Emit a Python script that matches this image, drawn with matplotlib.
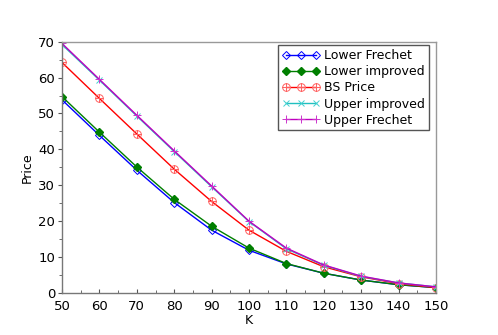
import matplotlib
matplotlib.use("Agg")
import matplotlib.pyplot as plt
from matplotlib.path import Path
from matplotlib.ticker import MultipleLocator

K = [50, 60, 70, 80, 90, 100, 110, 120, 130, 140, 150]
lower_frechet = [53.8, 43.9, 34.2, 25.2, 17.5, 11.9, 8.1, 5.5, 3.6, 2.3, 1.5]
lower_improved = [54.7, 44.8, 35.1, 26.1, 18.6, 12.5, 8.2, 5.5, 3.6, 2.3, 1.5]
bs_price = [64.2, 54.2, 44.3, 34.5, 25.5, 17.5, 11.6, 7.3, 4.5, 2.6, 1.5]
upper_improved = [69.2, 59.3, 49.3, 39.4, 29.6, 19.9, 12.3, 7.7, 4.6, 2.8, 1.7]
upper_frechet = [69.5, 59.5, 49.5, 39.6, 29.8, 20.0, 12.5, 7.8, 4.7, 2.8, 1.7]

# circle with a cross marker
circ = Path.unit_circle()
cross = Path([(-1, 0), (1, 0), (0, -1), (0, 1)],
             [Path.MOVETO, Path.LINETO, Path.MOVETO, Path.LINETO])
oplus = Path.make_compound_path(circ, cross)

fig = plt.figure(figsize=(4.98, 3.35), dpi=100)
ax = fig.add_axes([0.1245, 0.1254, 0.751, 0.7502])

ax.plot(K, lower_frechet, color='#0000ff', lw=1, marker='D', ms=4,
        mfc='none', mec='#0000ff', mew=0.7, label='Lower Frechet')
ax.plot(K, lower_improved, color='#007f00', lw=1, marker='D', ms=4,
        mfc='#007f00', mec='#007f00', label='Lower improved')
ax.plot(K, bs_price, color='#ff0000', lw=1, marker=oplus, ms=5.5,
        mfc='none', mec='#ff6060', mew=0.7, label='BS Price')
ax.plot(K, upper_improved, color='#20c0c0', lw=1, marker='x', ms=5,
        mec='#40d0d0', mew=0.7, label='Upper improved')
ax.plot(K, upper_frechet, color='#bf00bf', lw=1, marker='+', ms=6,
        mec='#cc33cc', mew=0.7, label='Upper Frechet')

ax.set_xlim(50, 150)
ax.set_ylim(0, 70)
ax.xaxis.set_major_locator(MultipleLocator(10))
ax.xaxis.set_minor_locator(MultipleLocator(5))
ax.yaxis.set_major_locator(MultipleLocator(10))
ax.yaxis.set_minor_locator(MultipleLocator(5))
ax.tick_params(axis='x', which='both', direction='in', top=False, labelsize=9.5, color='#555555', pad=5)
ax.tick_params(axis='y', which='both', direction='out', right=False, labelsize=9.5, color='#555555', pad=2)
ax.tick_params(which='major', length=3)
ax.tick_params(which='minor', length=2.5)
for s in ax.spines.values():
    s.set_color('#999999')
    s.set_linewidth(1)
ax.spines['left'].set_color('#777777')
ax.spines['bottom'].set_color('#777777')

ax.set_xlabel('K', fontsize=9, labelpad=1)
ax.set_ylabel('Price', fontsize=9, labelpad=3)

leg = ax.legend(loc='upper right', bbox_to_anchor=(0.988, 0.995), fontsize=9,
                numpoints=3, handlelength=3.0, handletextpad=0.4,
                borderpad=0.3, labelspacing=0.25, fancybox=False,
                framealpha=1, edgecolor='#555555', borderaxespad=0.2)
leg.get_frame().set_linewidth(1)

fig.savefig('out.png', dpi=100)
